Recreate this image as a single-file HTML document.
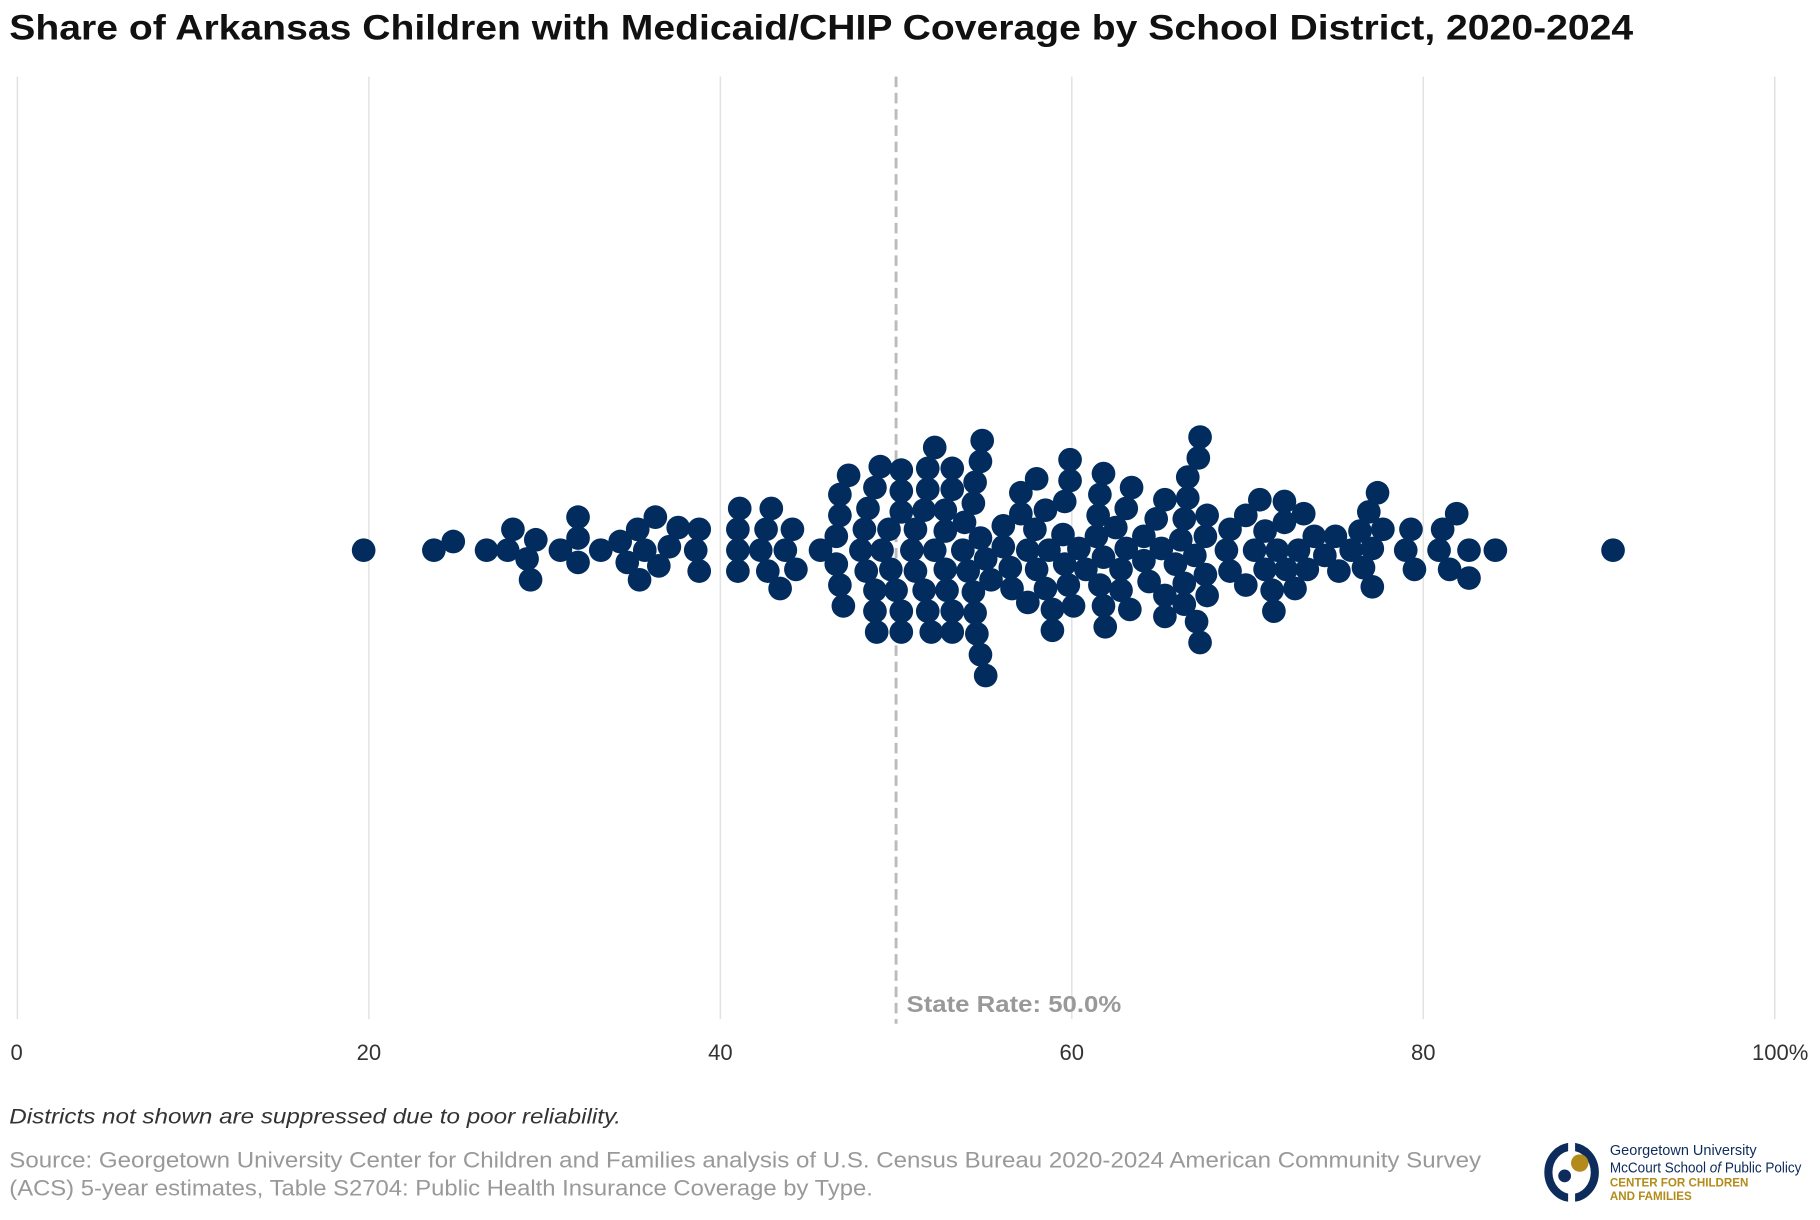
<!DOCTYPE html>
<html><head><meta charset="utf-8">
<style>
html,body{margin:0;padding:0;background:#fff;}
svg{display:block;}
text{font-family:"Liberation Sans",Arial,sans-serif;}
</style></head>
<body>
<svg id="chart" width="1820" height="1220" viewBox="0 0 1568 1051" xmlns="http://www.w3.org/2000/svg">
<text x="8" y="34" font-size="30" font-weight="bold" fill="#111" textLength="1399" lengthAdjust="spacingAndGlyphs">Share of Arkansas Children with Medicaid/CHIP Coverage by School District, 2020-2024</text>
<g id="grid"></g>
<g id="ticks"></g>
<g id="ref"></g>
<g id="dots"></g>
<text x="8" y="968" font-size="18" font-style="italic" fill="#333" textLength="527" lengthAdjust="spacingAndGlyphs">Districts not shown are suppressed due to poor reliability.</text>
<text x="8" y="1006" font-size="19" fill="#999" textLength="1268" lengthAdjust="spacingAndGlyphs">Source: Georgetown University Center for Children and Families analysis of U.S. Census Bureau 2020-2024 American Community Survey</text>
<text x="8" y="1030" font-size="19" fill="#999" textLength="744" lengthAdjust="spacingAndGlyphs">(ACS) 5-year estimates, Table S2704: Public Health Insurance Coverage by Type.</text>
<g>
<ellipse cx="1354" cy="1010" rx="20" ry="22" fill="none" stroke="#0d2c5c" stroke-width="7"/>
<rect x="1351" y="983" width="6" height="9" fill="#fff"/>
<rect x="1351" y="1028" width="6" height="9" fill="#fff"/>
<circle cx="1361" cy="1002" r="7.5" fill="#b38b1a"/>
<circle cx="1348" cy="1013" r="5.5" fill="#0d2c5c"/>
<text x="1387" y="995" font-size="12.5" fill="#0d2c5c" font-family="Liberation Serif,serif">Georgetown University</text>
<text x="1387" y="1010" font-size="12.5" fill="#0d2c5c" font-family="Liberation Serif,serif" textLength="165" lengthAdjust="spacingAndGlyphs">McCourt School <tspan font-style="italic">of</tspan> Public Policy</text>
<text x="1387" y="1022" font-size="10" fill="#b38b1a" font-weight="bold">CENTER FOR CHILDREN</text>
<text x="1387" y="1034" font-size="10" fill="#b38b1a" font-weight="bold">AND FAMILIES</text>
</g>
</svg>
<script>
const tickValues = [0, 20, 40, 60, 80, 100];
const tickLabels = ["0", "20", "40", "60", "80", "100%"];
const stateRate = 50.0;
const districtValues = [19.7,23.7,24.8,26.7,27.9,28.2,29.0,29.2,29.5,30.9,31.9,31.9,31.9,33.2,34.3,34.7,35.3,35.4,35.7,36.3,36.5,37.1,37.6,38.6,38.8,38.8,41.0,41.0,41.0,41.1,42.3,42.6,42.7,42.9,43.4,43.7,44.1,44.3,
45.7,46.6,46.6,46.8,46.8,46.8,47.0,47.3,48.0,48.2,48.3,48.4,48.8,48.8,48.8,48.9,49.1,49.2,49.6,49.7,50.0,50.3,50.3,50.3,50.3,50.3,50.9,51.1,51.1,51.6,51.6,51.8,51.8,51.8,52.0,52.2,52.2,52.8,52.8,52.8,52.9,53.2,53.2,53.2,53.2,53.8,53.9,54.1,54.4,54.4,54.5,54.5,54.6,54.8,54.8,54.8,54.9,55.1,55.1,
55.4,56.1,56.1,56.5,56.6,57.1,57.1,57.5,57.5,57.9,58.0,58.0,58.5,58.5,58.7,58.9,58.9,59.5,59.6,59.6,59.8,59.9,59.9,60.1,60.4,60.8,61.4,61.5,61.6,61.6,61.8,61.8,61.8,61.9,62.5,62.8,62.8,63.1,63.1,63.3,63.4,64.1,64.1,64.4,64.8,65.1,65.3,65.3,65.3,65.9,66.2,66.4,66.4,66.4,66.6,66.6,67.0,67.1,67.2,67.3,67.3,67.6,67.6,67.7,67.7,
68.8,69.0,69.0,69.9,69.9,70.4,70.7,71.0,71.0,71.4,71.5,71.7,72.1,72.1,72.2,72.7,72.9,73.2,73.4,73.8,74.4,75.0,75.2,75.9,76.4,76.6,76.9,77.1,77.1,77.4,77.7,79.0,79.3,79.5,80.9,81.1,81.5,81.9,82.6,82.6,84.1,90.8];

const NS = "http://www.w3.org/2000/svg";
const X0 = 15, X1 = 1529, CY = 474, R = 10.2, SEP = 18;
function xScale(v){ return X0 + (X1 - X0) * v / 100; }

const grid = document.getElementById('grid');
const ticks = document.getElementById('ticks');
tickValues.forEach((t, i) => {
  const x = xScale(t);
  const l = document.createElementNS(NS, 'line');
  
  
  l.setAttribute('x1', x); l.setAttribute('x2', x);
  l.setAttribute('y1', 66); l.setAttribute('y2', 878);
  l.setAttribute('stroke', '#e2e2e2'); l.setAttribute('stroke-width', '1.3');
  grid.appendChild(l);
  const tx = document.createElementNS(NS, 'text');
  
  
  tx.setAttribute('x', i === 0 ? x - 6 : (i === tickValues.length - 1 ? x + 29 : x));
  tx.setAttribute('y', 913);
  tx.setAttribute('font-size', '19');
  tx.setAttribute('fill', '#333');
  tx.setAttribute('text-anchor', i === 0 ? 'start' : (i === tickValues.length - 1 ? 'end' : 'middle'));
  tx.textContent = tickLabels[i];
  ticks.appendChild(tx);
});

const ref = document.getElementById('ref');
const rx = xScale(stateRate);
const rl = document.createElementNS(NS, 'line');


rl.setAttribute('x1', rx); rl.setAttribute('x2', rx);
rl.setAttribute('y1', 66); rl.setAttribute('y2', 882);
rl.setAttribute('stroke', '#bbb'); rl.setAttribute('stroke-width', '2.5');
rl.setAttribute('stroke-dasharray', '9,5');
ref.appendChild(rl);
const rt = document.createElementNS(NS, 'text');


rt.setAttribute('x', rx + 9); rt.setAttribute('y', 872);
rt.setAttribute('font-size', '20'); rt.setAttribute('font-weight', 'bold'); rt.setAttribute('fill', '#999');
rt.setAttribute('textLength', '185');
rt.setAttribute('lengthAdjust', 'spacingAndGlyphs');
rt.textContent = 'State Rate: ' + stateRate.toFixed(1) + '%';
ref.appendChild(rt);

// beeswarm placement
const sorted = districtValues.map((v, i) => ({v, i})).sort((a, b) => a.v - b.v);
const placed = [];
sorted.forEach(p => {
  const x = xScale(p.v);
  const near = placed.filter(q => Math.abs(q.x - x) < SEP);
  let best = null;
  for (let k = 0; k < 400; k++) {
    const off = (k % 2 === 0 ? 1 : -1) * Math.ceil(k / 2) * 1.5;
    const y = CY + off;
    if (near.every(q => (q.x - x) ** 2 + (q.y - y) ** 2 >= SEP * SEP)) { best = y; break; }
  }
  placed.push({x, y: best === null ? CY : best});
});
const dots = document.getElementById('dots');
placed.forEach(p => {
  const c = document.createElementNS(NS, 'circle');
  
  
  c.setAttribute('cx', p.x.toFixed(1));
  c.setAttribute('cy', p.y.toFixed(1));
  c.setAttribute('r', R);
  c.setAttribute('fill', '#022c5e');
  dots.appendChild(c);
});
</script>
</body></html>
